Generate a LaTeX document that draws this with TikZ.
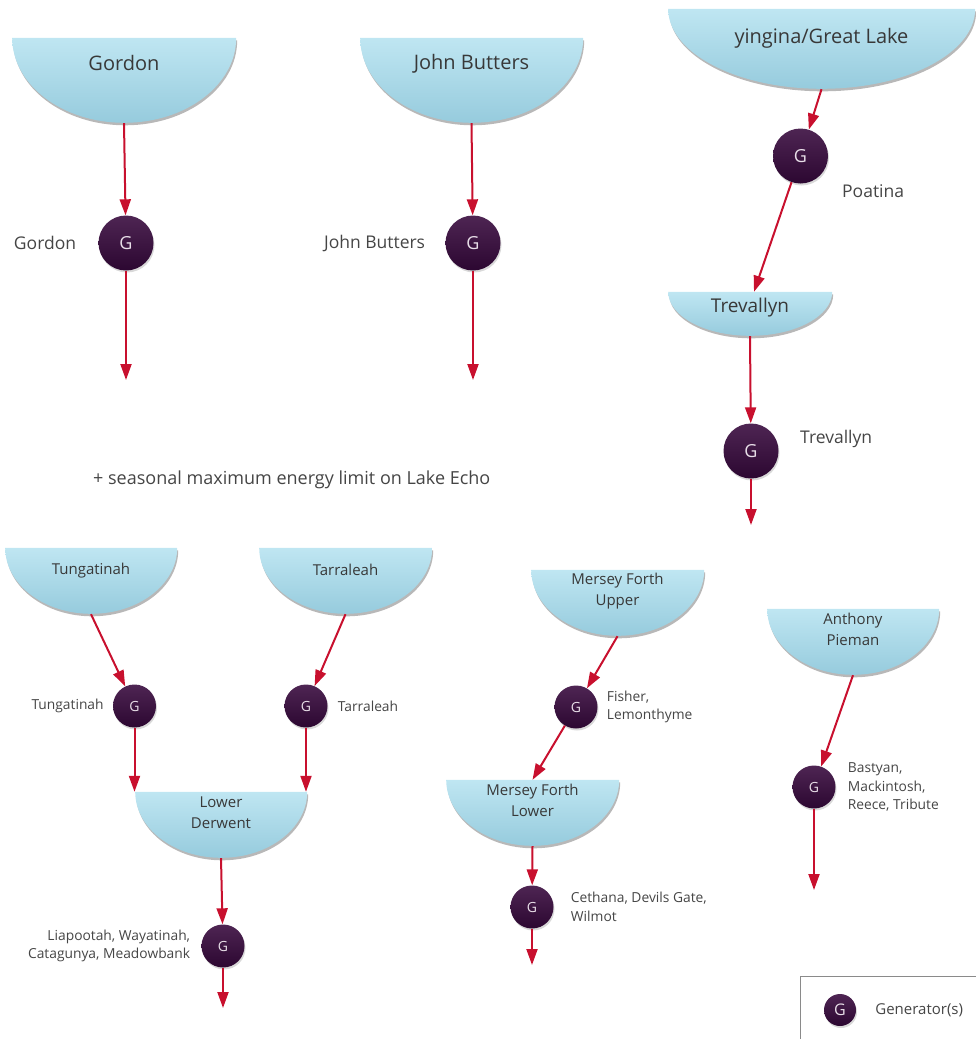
\documentclass[tikz,border=0pt]{standalone}
\usepackage{fontspec}
\setmainfont{Open Sans}
\usetikzlibrary{positioning,arrows.meta,shadows}
\definecolor{lake}{HTML}{BFE6F2}
\definecolor{lakemid}{HTML}{B3E0EE}
\definecolor{lakedeep}{HTML}{96CBDD}
\definecolor{genhi}{HTML}{4E2553}
\definecolor{genlo}{HTML}{2C0731}
\definecolor{genletter}{HTML}{E8DEE8}
\definecolor{flowred}{HTML}{C8102E}
\definecolor{ink}{HTML}{383838}
\definecolor{tagink}{HTML}{454545}
\definecolor{frame}{HTML}{8A8A8A}

\begin{document}
\begin{tikzpicture}[x=1pt,y=-1pt,font=\fontsize{17.5}{21}\selectfont,
  res/.style={inner sep=0pt},
  resname/.style={text=ink,align=center,inner sep=0pt},
  gen/.style={circle,inner sep=0pt,top color=genhi,bottom color=genlo,text=genletter,
    drop shadow={opacity=0.3,shadow xshift=1pt,shadow yshift=-2pt}},
  bigG/.style={gen,minimum size=55,font=\fontsize{18}{18}\selectfont},
  smallG/.style={gen,minimum size=43,font=\fontsize{14}{14}\selectfont},
  tag/.style={text=tagink,inner sep=0pt},
  smalltag/.style={tag,font=\fontsize{13.8}{18.5}\selectfont},
  flow/.style={draw=flowred,line width=2pt,-{Triangle[length=16pt,width=11pt]}}]
  \useasboundingbox (0,0) rectangle (976,1039);

  % Reservoirs: name / centre / size / label drop
  \foreach \rname/\rx/\ry/\rw/\rh/\rdy in {
    gordon/124/80.5/224/85/25,
    butters/471.5/80.5/223/85/26,
    great/821.5/49/307/80/30,
    trev/750/314/164/44/16,
    tung/91/581/172/66/23,
    tarra/345.5/581/173/66/22,
    lderw/221/825/172/66/21,
    mfu/617.5/603/173/66/21,
    mfl/532.5/813/173/66/21,
    pieman/853/642/172/66/21
  } {
    \node[res,minimum width=\rw pt,minimum height=\rh pt] (\rname) at (\rx,\ry) {};
    \fill[black,opacity=0.28] ([shift={(1pt,-2.5pt)}]\rname.north east)
      arc[start angle=0,end angle=-180,x radius=0.5*\rw pt,y radius=\rh pt] -- cycle;
    \shade[top color=lake,middle color=lakemid,bottom color=lakedeep] (\rname.north east)
      arc[start angle=0,end angle=-180,x radius=0.5*\rw pt,y radius=\rh pt] -- cycle;
    \coordinate (\rname-mid) at ([yshift=-\rdy pt]\rname.north);
  }

  % Reservoir names
  \node[resname,font=\fontsize{20}{21}\selectfont] (gordon-name) at (gordon-mid) {Gordon};
  \node[resname,font=\fontsize{20}{21}\selectfont] (butters-name) at (butters-mid) {John Butters};
  \node[resname,font=\fontsize{20}{21}\selectfont] (great-name) at (great-mid) {yingina/Great Lake};
  \node[resname,font=\fontsize{19}{21}\selectfont] (trev-name) at (trev-mid) {Trevallyn};
  \foreach \rname/\rlab in {tung/Tungatinah,tarra/Tarraleah,lderw/Lower\\Derwent,
                            mfu/Mersey Forth\\Upper,mfl/Mersey Forth\\Lower,pieman/Anthony\\Pieman}
    \node[resname,font=\fontsize{15}{21}\selectfont] (\rname-name) at (\rname-mid) {\rlab};

  % Generators
  \foreach \g/\x/\y in {gordonG/126/243,buttersG/473/243,poatinaG/800.5/156,trevG/751/451}
    \node[bigG] (\g) at (\x,\y) {G};
  \foreach \g/\x/\y in {tungG/134.5/706,tarraG/306/706,fisherG/576/707,
                        bastyanG/814/787,liaG/223/946,cethanaG/532/907}
    \node[smallG] (\g) at (\x,\y) {G};

  % Station names
  \node[tag,left=22pt of gordonG] (gordon-tag) {Gordon};
  \node[tag,left=20pt of buttersG] (butters-tag) {John Butters};
  \node[tag,anchor=west] (poatina-tag) at (842,191) {Poatina};
  \node[tag,anchor=west] (trev-tag) at (800,439) {Trevallyn};
  \node[smalltag,left=9pt of tungG] (tung-tag) {Tungatinah};
  \node[smalltag,right=10pt of tarraG] (tarra-tag) {Tarraleah};
  \node[smalltag,align=left,right=9pt of fisherG] (fisher-tag) {Fisher,\\Lemonthyme};
  \node[smalltag,align=left,right=12pt of bastyanG] (bastyan-tag) {Bastyan,\\Mackintosh,\\Reece, Tribute};
  \node[smalltag,align=right,left=11pt of liaG] (lia-tag) {Liapootah, Wayatinah,\\Catagunya, Meadowbank};
  \node[smalltag,align=left,right=17pt of cethanaG] (cethana-tag) {Cethana, Devils Gate,\\Wilmot};
  \node[tag,anchor=west,font=\fontsize{18}{21}\selectfont] (echo) at (93,480) {+ seasonal maximum energy limit on Lake Echo};

  % Flow paths
  \coordinate (gordon-end) at (126,380);
  \coordinate (butters-end) at (473,380);
  \coordinate (trev-in) at ([xshift=4pt]trev.north);
  \coordinate (trev-end) at (751,525);
  \coordinate (lderw-in1) at (tungG |- lderw.north);
  \coordinate (lderw-in2) at (tarraG |- lderw.north);
  \coordinate (lia-end) at (223,1008);
  \coordinate (cethana-end) at (532,965);
  \coordinate (bastyan-end) at (814,890);
  \foreach \a/\b in {gordon.south/gordonG,gordonG/gordon-end,
                     butters.south/buttersG,buttersG/butters-end,
                     great.south/poatinaG,poatinaG/trev-in,trev.south/trevG,trevG/trev-end,
                     tung.south/tungG,tungG/lderw-in1,tarra.south/tarraG,tarraG/lderw-in2,
                     lderw.south/liaG,liaG/lia-end,
                     mfu.south/fisherG,fisherG/mfl.north,mfl.south/cethanaG,cethanaG/cethana-end,
                     pieman.south/bastyanG,bastyanG/bastyan-end}
    \draw[flow] (\a) -- (\b);

  % Key
  \draw[frame,line width=1pt] (800,1039) |- (976,976);
  \node[gen,minimum size=32,font=\fontsize{16}{16}\selectfont] (keyG) at (840,1010) {G};
  \node[tag,right=19pt of keyG,font=\fontsize{15}{18}\selectfont] (key-tag) {Generator(s)};
\end{tikzpicture}
\end{document}
